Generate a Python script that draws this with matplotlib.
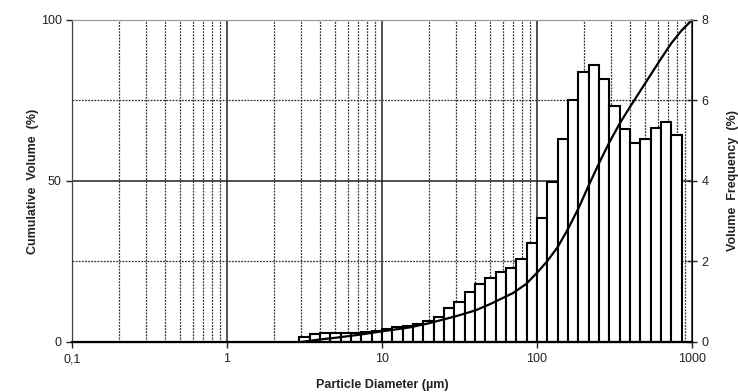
import numpy as np
import matplotlib.pyplot as plt
from matplotlib.ticker import FixedLocator, FixedFormatter

plt.rcParams['font.family'] = ['Liberation Sans', 'DejaVu Sans']

# size classes: 15 per decade, lower edge index k -> 10**(k/15) um
bin_index = np.arange(7, 45)
freq = [0.12, 0.20, 0.22, 0.22, 0.23, 0.23, 0.25, 0.28,
        0.32, 0.36, 0.40, 0.45, 0.52, 0.63, 0.84, 1.00, 1.23, 1.45,
        1.58, 1.73, 1.83, 2.05, 2.45,
        3.09, 3.98, 5.05, 6.01, 6.71, 6.88,
        6.53, 5.87, 5.28, 4.94, 5.05, 5.32, 5.47, 5.14]

cum_d = [3, 4, 5, 7, 10, 15, 20, 30, 40, 50, 70, 85, 100, 116, 136, 158, 185,
         215, 251, 293, 341, 398, 464, 541, 631, 736, 858, 1000]
cum_v = [0, 0.8, 1.3, 2.2, 3.3, 4.5, 5.8, 8.0, 9.8, 11.8, 15.2, 18.0, 21.5, 25.0, 29.5, 35.0, 41.5,
         48.5, 55.5, 62.0, 67.8, 73.0, 78.0, 83.0, 88.0, 92.8, 96.8, 100]

xticks = [0.1, 1, 10, 100, 1000]
xticklabels = ['0,1', '1', '10', '100', '1000']

edges = 10.0 ** (bin_index / 15.0)
left = edges[:-1]
width = np.diff(edges)

fig = plt.figure(figsize=(7.38, 3.92), dpi=100)
ax = fig.add_axes([0.0976, 0.1276, 0.8401, 0.8214])
ax2 = ax.twinx()
ax.set_zorder(ax2.get_zorder() + 1)
ax.patch.set_visible(False)

# grid on the back axis
for dec in [0.1, 1, 10, 100]:
    for m in range(2, 10):
        ax2.axvline(dec * m, color='#333333', lw=0.9, ls=(0, (1.5, 1)), zorder=0)
    if dec > 0.1:
        ax2.axvline(dec, color='#222222', lw=1.1, zorder=0)
ax2.axhline(2, color='#333333', lw=0.9, ls=(0, (1.5, 1)), zorder=0)
ax2.axhline(6, color='#333333', lw=0.9, ls=(0, (1.5, 1)), zorder=0)
ax2.axhline(4, color='#222222', lw=1.1, zorder=0)

ax2.bar(left, freq, width=width, align='edge', color='white',
        edgecolor='black', lw=1.5, zorder=2)

ax.plot(cum_d, cum_v, color='black', lw=1.6)

ax.set_xscale('log')
ax.set_xlim(0.1, 1000)
ax.set_ylim(0, 100)
ax2.set_ylim(0, 8)

ax.xaxis.set_major_locator(FixedLocator(xticks))
ax.xaxis.set_major_formatter(FixedFormatter(xticklabels))
ax.xaxis.set_minor_locator(FixedLocator([]))
ax.set_yticks([0, 50, 100])
ax2.set_yticks([0, 2, 4, 6, 8])

ax.tick_params(axis='both', labelsize=9, colors='#222222', length=4, width=1)
ax.tick_params(axis='x', pad=4)
ax2.tick_params(axis='y', labelsize=9, colors='#222222', length=7, width=1, direction='inout')

ax.spines['bottom'].set_linewidth(1.6)
ax.spines['left'].set_color('#444444')
ax.spines['top'].set_color('#999999')
ax2.spines['top'].set_color('#999999')
ax2.spines['right'].set_color('#333333')
ax2.spines['right'].set_linewidth(1.2)

ax.set_xlabel('Particle Diameter (µm)', fontsize=9, fontweight='bold', color='#222222', labelpad=10)
ax.set_ylabel('Cumulative  Volume  (%)', fontsize=9, fontweight='bold', color='#222222', labelpad=1)
ax2.set_ylabel('Volume  Frequency  (%)', fontsize=9, fontweight='bold', color='#222222', labelpad=13)

fig.savefig('out.png', dpi=100)
